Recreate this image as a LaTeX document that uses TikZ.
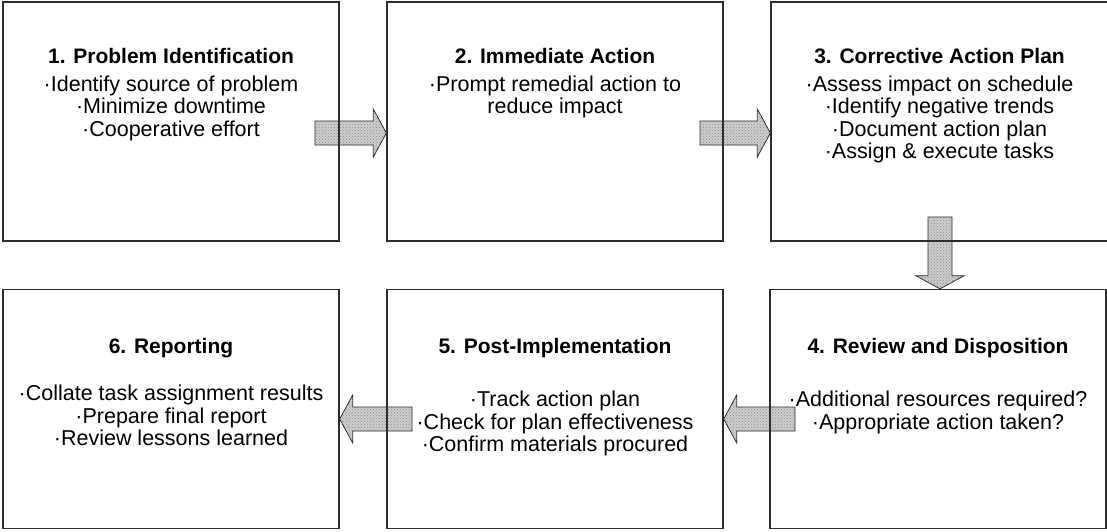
\documentclass[tikz,border=0pt]{standalone}
\usepackage{fontspec}
\setmainfont{Liberation Sans}
\usetikzlibrary{positioning, calc, backgrounds, patterns}
\definecolor{boxline}{RGB}{45,45,45}
\definecolor{arrowfill}{RGB}{205,205,205}
\tikzset{
  stage/.style={rectangle, draw=boxline, line width=1.4pt,
    minimum width=336pt, minimum height=239pt, inner sep=0pt},
  stagetitle/.style={anchor=base, inner sep=0pt,
    font=\fontsize{21}{23}\selectfont\bfseries},
  stagetext/.style={anchor=north, inner sep=0pt, align=center,
    font=\fontsize{21.5}{22.5}\selectfont},
  fatarrow/.style={draw=black!85, line width=0.8pt, fill=arrowfill,
    postaction={pattern=crosshatch dots, pattern color=black!45}},
  fatright/.style={to path={
    ($(\tikztostart)+(0,12pt)$) -- ($(\tikztotarget)+(-13pt,12pt)$)
    -- ($(\tikztotarget)+(-13pt,24pt)$) -- (\tikztotarget)
    -- ($(\tikztotarget)+(-13pt,-24pt)$) -- ($(\tikztotarget)+(-13pt,-12pt)$)
    -- ($(\tikztostart)+(0,-12pt)$) -- cycle}},
  fatleft/.style={to path={
    ($(\tikztostart)+(0,12pt)$) -- ($(\tikztotarget)+(13pt,12pt)$)
    -- ($(\tikztotarget)+(13pt,24pt)$) -- (\tikztotarget)
    -- ($(\tikztotarget)+(13pt,-24pt)$) -- ($(\tikztotarget)+(13pt,-12pt)$)
    -- ($(\tikztostart)+(0,-12pt)$) -- cycle}},
  fatdown/.style={to path={
    ($(\tikztostart)+(-12pt,0)$) -- ($(\tikztotarget)+(-12pt,13pt)$)
    -- ($(\tikztotarget)+(-24pt,13pt)$) -- (\tikztotarget)
    -- ($(\tikztotarget)+(24pt,13pt)$) -- ($(\tikztotarget)+(12pt,13pt)$)
    -- ($(\tikztostart)+(12pt,0)$) -- cycle}}
}

\begin{document}
\begin{tikzpicture}[x=1pt, y=-1pt]
  \useasboundingbox (0,0) rectangle (1107,531);

  % Stages, top row
  \node[stage] (ident) at (171,121.5) {};
  \node[stage] (immed) at (555,121.5) {};
  \node[stage, minimum width=337pt] (plan) at (939.5,121.5) {};

  % Stages, bottom row
  \node[stage] (review) at (938,409) {};
  \node[stage] (post) at (555,409) {};
  \node[stage] (report) at (171,409) {};

  % Titles
  \node[stagetitle] (identT) at ($(ident.north)+(0,62)$) {1. Problem Identification};
  \node[stagetitle] (immedT) at ($(immed.north)+(0,62)$) {2. Immediate Action};
  \node[stagetitle] (planT) at ($(plan.north)+(0,62)$) {3. Corrective Action Plan};
  \node[stagetitle] (reviewT) at ($(review.north)+(0,65)$) {4. Review and Disposition};
  \node[stagetitle] (postT) at ($(post.north)+(0,65)$) {5. Post-Implementation};
  \node[stagetitle] (reportT) at ($(report.north)+(0,65)$) {6. Reporting};

  % Task lists
  \node[stagetext] (identL) at ($(ident.north)+(0,74)$)
    {·Identify source of problem\\·Minimize downtime\\·Cooperative effort};
  \node[stagetext] (immedL) at ($(immed.north)+(0,74)$)
    {·Prompt remedial action to\\reduce impact};
  \node[stagetext] (planL) at ($(plan.north)+(0,74)$)
    {·Assess impact on schedule\\·Identify negative trends\\·Document action plan\\·Assign \& execute tasks};
  \node[stagetext] (reviewL) at ($(review.north)+(0,102)$)
    {·Additional resources required?\\·Appropriate action taken?};
  \node[stagetext] (postL) at ($(post.north)+(0,102)$)
    {·Track action plan\\·Check for plan effectiveness\\·Confirm materials procured};
  \node[stagetext] (reportL) at ($(report.north)+(0,96)$)
    {·Collate task assignment results\\·Prepare final report\\·Review lessons learned};

  % Block arrows behind the boxes
  \begin{scope}[on background layer]
    \coordinate (a1) at (315,133);
    \coordinate (a2) at (700,133);
    \coordinate (a3) at (940,217);
    \coordinate (a4) at (795,419);
    \coordinate (a5) at (412,419);
    \draw[fatarrow] (a1) to[fatright] (immed.west |- a1);
    \draw[fatarrow] (a2) to[fatright] (plan.west |- a2);
    \draw[fatarrow] (a3) to[fatdown] (a3 |- review.north);
    \draw[fatarrow] (a4) to[fatleft] (post.east |- a4);
    \draw[fatarrow] (a5) to[fatleft] (report.east |- a5);
  \end{scope}
\end{tikzpicture}
\end{document}
